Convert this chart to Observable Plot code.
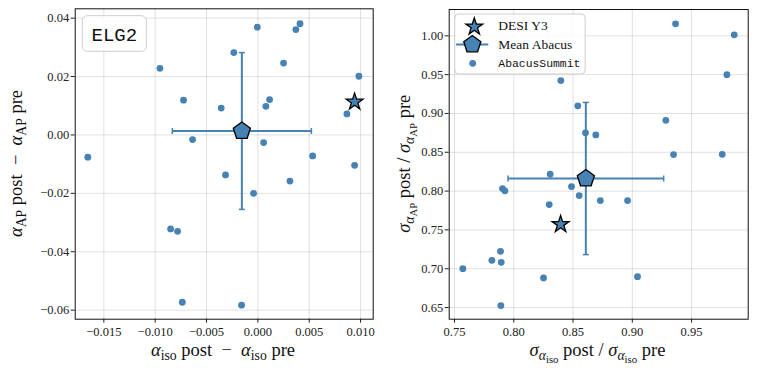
<!DOCTYPE html>
<html><head><meta charset="utf-8">
<script src="https://cdn.jsdelivr.net/npm/d3@7"></script>
<script src="https://cdn.jsdelivr.net/npm/@observablehq/plot@0.6"></script>
<style>
body{margin:0;background:#fff;}
#wrap{position:relative;width:757px;height:374px;overflow:hidden;background:#fff;}
#wrap svg{position:absolute;top:0;}
</style></head>
<body><div id="wrap"></div>
<script>
// ---- data ----
const leftX = [-0.01656,-0.00954,-0.00724,-0.00636,-0.00357,-0.00234,-0.00006,0.00078,0.00114,0.00056,0.0025,0.0037,0.0041,0.00533,0.00984,0.00867,0.00942,-0.00315,0.00312,-0.00042,-0.0085,-0.00782,-0.00736,-0.00159];
const leftY = [-0.0076,0.0228,0.0119,-0.0016,0.0092,0.0282,0.0369,0.0098,0.0121,-0.0026,0.0246,0.0361,0.0381,-0.0072,0.0201,0.0072,-0.0104,-0.0137,-0.0158,-0.0200,-0.0322,-0.0330,-0.0573,-0.0583];
const rightX = [0.9365,0.986,0.9798,0.8397,0.854,0.8605,0.8692,0.9283,0.9348,0.9759,0.8307,0.7905,0.7925,0.8487,0.8552,0.8299,0.873,0.896,0.7888,0.7815,0.7894,0.757,0.8251,0.9044,0.7891];
const rightY = [1.0155,1.0013,0.950,0.9424,0.9098,0.875,0.8724,0.8912,0.847,0.8474,0.8217,0.8032,0.8003,0.8058,0.7942,0.7826,0.7878,0.7878,0.7224,0.7108,0.7083,0.7001,0.6881,0.6898,0.6525];
const desiLeft = [0.00942, 0.0113];
const meanLeft = [-0.00156, 0.00135];
const errLeft = [0.00677, 0.02685];
const desiRight = [0.8395, 0.7572];
const meanRight = [0.8608, 0.8162];
const errRight = [0.0657, 0.098];
const leftXTicks = [-0.015,-0.01,-0.005,0,0.005,0.01];
const leftYTicks = [-0.06,-0.04,-0.02,0,0.02,0.04];
const rightXTicks = [0.75,0.80,0.85,0.90,0.95];
const rightYTicks = [0.65,0.70,0.75,0.80,0.85,0.90,0.95,1.00];
const panelLabel = "ELG2";
const legendLabels = ["DESI Y3","Mean Abacus","AbacusSummit"];

const BLUE = "#4682b4";
const SERIF = "'Liberation Serif', 'DejaVu Serif', serif";
const MONO = "'Liberation Mono', 'DejaVu Sans Mono', monospace";

const pentagon = {draw(ctx, size){
  const R = Math.sqrt(size/Math.PI);
  for(let i=0;i<5;i++){
    const a = -Math.PI/2 + i*2*Math.PI/5;
    const x = R*Math.cos(a), y = R*Math.sin(a);
    if(i===0) ctx.moveTo(x,y); else ctx.lineTo(x,y);
  }
  ctx.closePath();
}};
const capV = {draw(ctx,size){const h=Math.sqrt(size/Math.PI); ctx.moveTo(0,-h); ctx.lineTo(0,h);}};
const capH = {draw(ctx,size){const h=Math.sqrt(size/Math.PI); ctx.moveTo(-h,0); ctx.lineTo(h,0);}};

function errorMarks(m, e){
  const d = [{x:m[0], y:m[1]}];
  return [
    Plot.link(d, {x1: v=>v.x-e[0], x2: v=>v.x+e[0], y1:"y", y2:"y", stroke: BLUE, strokeWidth: 2}),
    Plot.link(d, {x1:"x", x2:"x", y1: v=>v.y-e[1], y2: v=>v.y+e[1], stroke: BLUE, strokeWidth: 2}),
    Plot.dot([{x:m[0]-e[0],y:m[1]},{x:m[0]+e[0],y:m[1]}], {x:"x", y:"y", symbol: capV, r: 3, stroke: BLUE, strokeWidth: 1.5, fill:"none"}),
    Plot.dot([{x:m[0],y:m[1]-e[1]},{x:m[0],y:m[1]+e[1]}], {x:"x", y:"y", symbol: capH, r: 3, stroke: BLUE, strokeWidth: 1.5, fill:"none"}),
    Plot.dot(d, {x:"x", y:"y", symbol: pentagon, r: 9, fill: BLUE, stroke: "#000", strokeWidth: 1.3})
  ];
}

function panel(opts){
  const pts = opts.xs.map((x,i)=>({x, y: opts.ys[i]}));
  return Plot.plot({
    width: opts.width, height: 374,
    marginLeft: opts.ml, marginRight: opts.mr, marginTop: opts.mt, marginBottom: 374-318.7,
    style: {fontFamily: SERIF, fontSize: "12.5px", color: "#222", background: "transparent"},
    x: {domain: opts.xd},
    y: {domain: opts.yd},
    marks: [
      Plot.gridX(opts.xt, {stroke: "#000", strokeOpacity: 0.12, strokeWidth: 1}),
      Plot.gridY(opts.yt, {stroke: "#000", strokeOpacity: 0.12, strokeWidth: 1}),
      Plot.axisX({ticks: opts.xt, tickFormat: d3.format(opts.xf), tickSize: 4, tickPadding: 4, label: null, stroke:"#222"}),
      Plot.axisY({ticks: opts.yt, tickFormat: d3.format(opts.yf), tickSize: 4, tickPadding: 2, label: null, stroke:"#222"}),
      Plot.dot(pts, {x:"x", y:"y", r: 3.4, fill: BLUE}),
      ...errorMarks(opts.mean, opts.err),
      Plot.dot([{x:opts.desi[0], y:opts.desi[1]}], {x:"x", y:"y", symbol:"star", r: 5.3, fill: BLUE, stroke:"#000", strokeWidth: 1.3}),
      Plot.frame({stroke:"#111", strokeWidth: 1})
    ]
  });
}

function mathText(g, parts, fs){
  const t = g.append("text").attr("font-family", SERIF).attr("font-size", fs).attr("fill","#111");
  const sizes = [fs, fs*0.74, fs*0.58];
  const offs = [0, fs*0.22, fs*0.4];
  let cur = 0;
  for(const [txt, lvl, it] of parts){
    t.append("tspan").attr("dy", offs[lvl]-cur).attr("font-size", sizes[lvl])
      .attr("font-style", it ? "italic" : "normal").text(txt);
    cur = offs[lvl];
  }
  return t;
}

const wrap = document.getElementById("wrap");

// Left panel
const L = panel({width: 380, ml: 74.7, mr: 7.3, mt: 8.3, xd:[-0.01779, 0.01123], yd:[-0.0631, 0.0432],
  xt: leftXTicks, yt: leftYTicks, xf: ".3f", yf: ".2f", xs: leftX, ys: leftY,
  mean: meanLeft, err: errLeft, desi: desiLeft});
L.style.left = "0px";
wrap.appendChild(L);
{
  const s = d3.select(L);
  mathText(s, [["α",0,true],["iso",1,false],[" post  −  ",0,false],["α",0,true],["iso",1,false],[" pre",0,false]], 18.5)
    .attr("x", 223).attr("y", 356).attr("text-anchor","middle");
  mathText(s, [["α",0,true],["AP",1,false],[" post  −  ",0,false],["α",0,true],["AP",1,false],[" pre",0,false]], 18.5)
    .attr("text-anchor","middle").attr("transform","translate(22,163.5) rotate(-90)");
  s.append("rect").attr("x",82.3).attr("y",15.7).attr("width",64).attr("height",35.6).attr("rx",5)
    .attr("fill","#fff").attr("fill-opacity",0.85).attr("stroke","#ccc").attr("stroke-width",1);
  s.append("text").attr("x",114.3).attr("y",40.5).attr("text-anchor","middle")
    .attr("font-family", MONO).attr("font-size",19).attr("fill","#111").text(panelLabel);
}

// Right panel
const R = panel({width: 377, ml: 68.7, mr: 9.3, mt: 9, xd:[0.7455, 0.9978], yd:[0.635, 1.0339],
  xt: rightXTicks, yt: rightYTicks, xf: ".2f", yf: ".2f", xs: rightX, ys: rightY,
  mean: meanRight, err: errRight, desi: desiRight});
R.style.left = "380px";
wrap.appendChild(R);
{
  const s = d3.select(R);
  mathText(s, [["σ",0,true],["α",1,true],["iso",2,false],[" post / ",0,false],["σ",0,true],["α",1,true],["iso",2,false],[" pre",0,false]], 18.5)
    .attr("x", 217.5).attr("y", 356).attr("text-anchor","middle");
  mathText(s, [["σ",0,true],["α",1,true],["AP",2,false],[" post / ",0,false],["σ",0,true],["α",1,true],["AP",2,false],[" pre",0,false]], 18.5)
    .attr("text-anchor","middle").attr("transform","translate(30,163.8) rotate(-90)");
  // legend
  const lg = s.append("g").attr("text-anchor","start");
  lg.append("rect").attr("x",74.7).attr("y",14).attr("width",130.5).attr("height",60).attr("rx",4)
    .attr("fill","#fff").attr("fill-opacity",0.85).attr("stroke","#ccc").attr("stroke-width",1);
  lg.append("path").attr("transform","translate(94.3,26.8)")
    .attr("d", d3.symbol(d3.symbolStar, Math.PI*5.3*5.3)()).attr("fill",BLUE).attr("stroke","#000").attr("stroke-width",1.3);
  lg.append("line").attr("x1",76).attr("x2",108.3).attr("y1",44.5).attr("y2",44.5).attr("stroke",BLUE).attr("stroke-width",2);
  lg.append("path").attr("transform","translate(92.3,44.5)")
    .attr("d", d3.symbol(pentagon, Math.PI*81)()).attr("fill",BLUE).attr("stroke","#000").attr("stroke-width",1.3);
  lg.append("circle").attr("cx",92.7).attr("cy",63.3).attr("r",3.4).attr("fill",BLUE);
  const tx = (y, fam, fs, txt) => lg.append("text").attr("x",118.3).attr("y",y).attr("text-anchor","start")
    .attr("font-family",fam).attr("font-size",fs).attr("fill","#111").text(txt);
  tx(29.5, SERIF, 13.5, legendLabels[0]);
  tx(49.3, SERIF, 13.5, legendLabels[1]);
  tx(67.3, MONO, 11.4, legendLabels[2]);
}
</script></body></html>
